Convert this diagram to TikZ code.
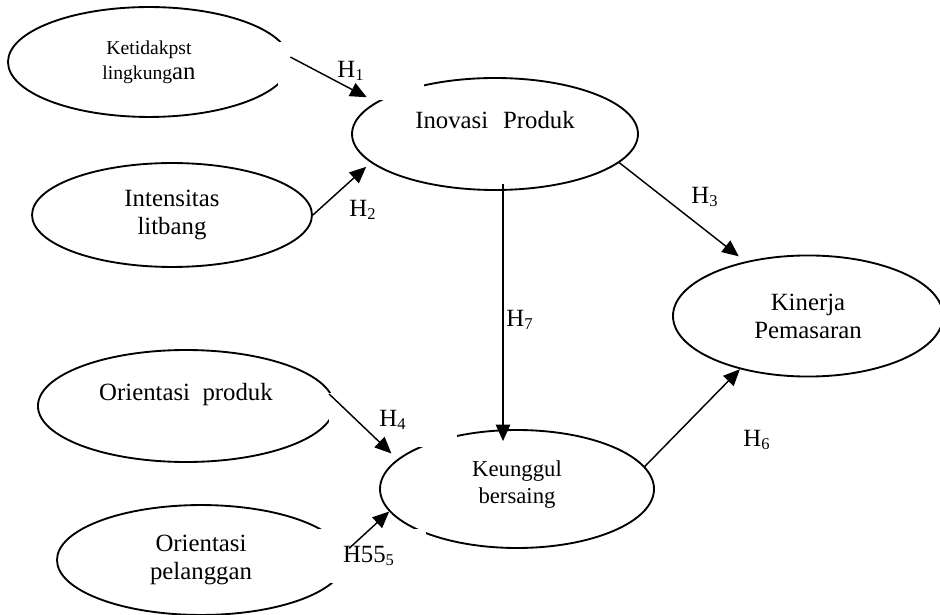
\documentclass[tikz,border=0pt]{standalone}
\usepackage{fontspec}
\setmainfont{Liberation Serif}
\usepackage{tikz}
\usetikzlibrary{shapes.geometric}
\usetikzlibrary{arrows.meta}

\begin{document}
\begin{tikzpicture}[x=0.484pt,y=-0.484pt,
  var/.style={ellipse,draw,line width=0.9pt,inner sep=1pt,align=center,
    font=\fontsize{12}{13.5}\selectfont},
  hyp/.style={-{Triangle[length=8pt,width=7pt]},line width=0.7pt},
  hlbl/.style={inner sep=0pt,font=\fontsize{12}{14}\selectfont},
  gap/.style={fill=white}]

\useasboundingbox (0,0) rectangle (940,615);

% variables
\node [var,font=\fontsize{9.5}{12}\selectfont,minimum width=136.5pt,minimum height=53.2pt] (ketid) at (149,62)
  {Ketidakpst\\lingkung{\fontsize{12}{12}\selectfont an}};
\node [var,minimum width=135.5pt,minimum height=50.3pt] (intens) at (172,215) {Intensitas\\litbang};
\node [var,minimum width=138.4pt,minimum height=54.2pt] (inov) at (495,134) {Inovasi\hspace{0.6em}Produk\\\mbox{}};
\node [var,minimum width=130.7pt,minimum height=58.6pt] (kiner) at (808,316) {Kinerja\\Pemasaran};
\node [var,font=\fontsize{11}{13}\selectfont,minimum width=132.6pt,minimum height=57.1pt] (keung) at (517,489) {Keunggul\\bersaing\\[-6pt]\mbox{}};
\node [var,minimum width=143.3pt,minimum height=54.2pt] (orpro) at (186,406) {Orientasi\ \ produk\\\mbox{}};
\node [var,minimum width=139.4pt,minimum height=53.2pt] (orpel) at (201,560) {Orientasi\\pelanggan};

% hypotheses
\node [hlbl,gap,minimum width=70.7pt,minimum height=27.6pt] (h1) at (351,71) {H\textsubscript{1}};
\node [hlbl] (h2) at (363,210) {H\textsubscript{2}};
\node [hlbl] (h3) at (705,197) {H\textsubscript{3}};
\node [hlbl,gap,minimum width=61.5pt,minimum height=25.7pt] (h4) at (393,420) {H\textsubscript{4}};
\node [hlbl,gap,minimum width=54.7pt,minimum height=26.1pt] (h5) at (369,556) {H55\textsubscript{5}};
\node [hlbl] (h6) at (757,440) {H\textsubscript{6}};
\node [hlbl] (h7) at (520,320) {H\textsubscript{7}};

\draw [hyp,shorten >=5pt] (ketid.2) -- (inov.165);
\draw [hyp,shorten >=3pt] (intens.east) -- (inov.193);
\draw [hyp,shorten >=4pt] (inov.347) -- (kiner.139);
\draw [hyp] ([shift={(8,-7)}]inov.south) -- ([shift={(-14,12)}]keung.north);
\draw [hyp,shorten <=-3pt,shorten >=4pt] (orpro.3) -- (keung.166);
\draw [hyp,shorten <=3pt] (orpel.3) -- (keung.190);
\draw [hyp] (keung.10) -- (kiner.218);
\end{tikzpicture}
\end{document}
